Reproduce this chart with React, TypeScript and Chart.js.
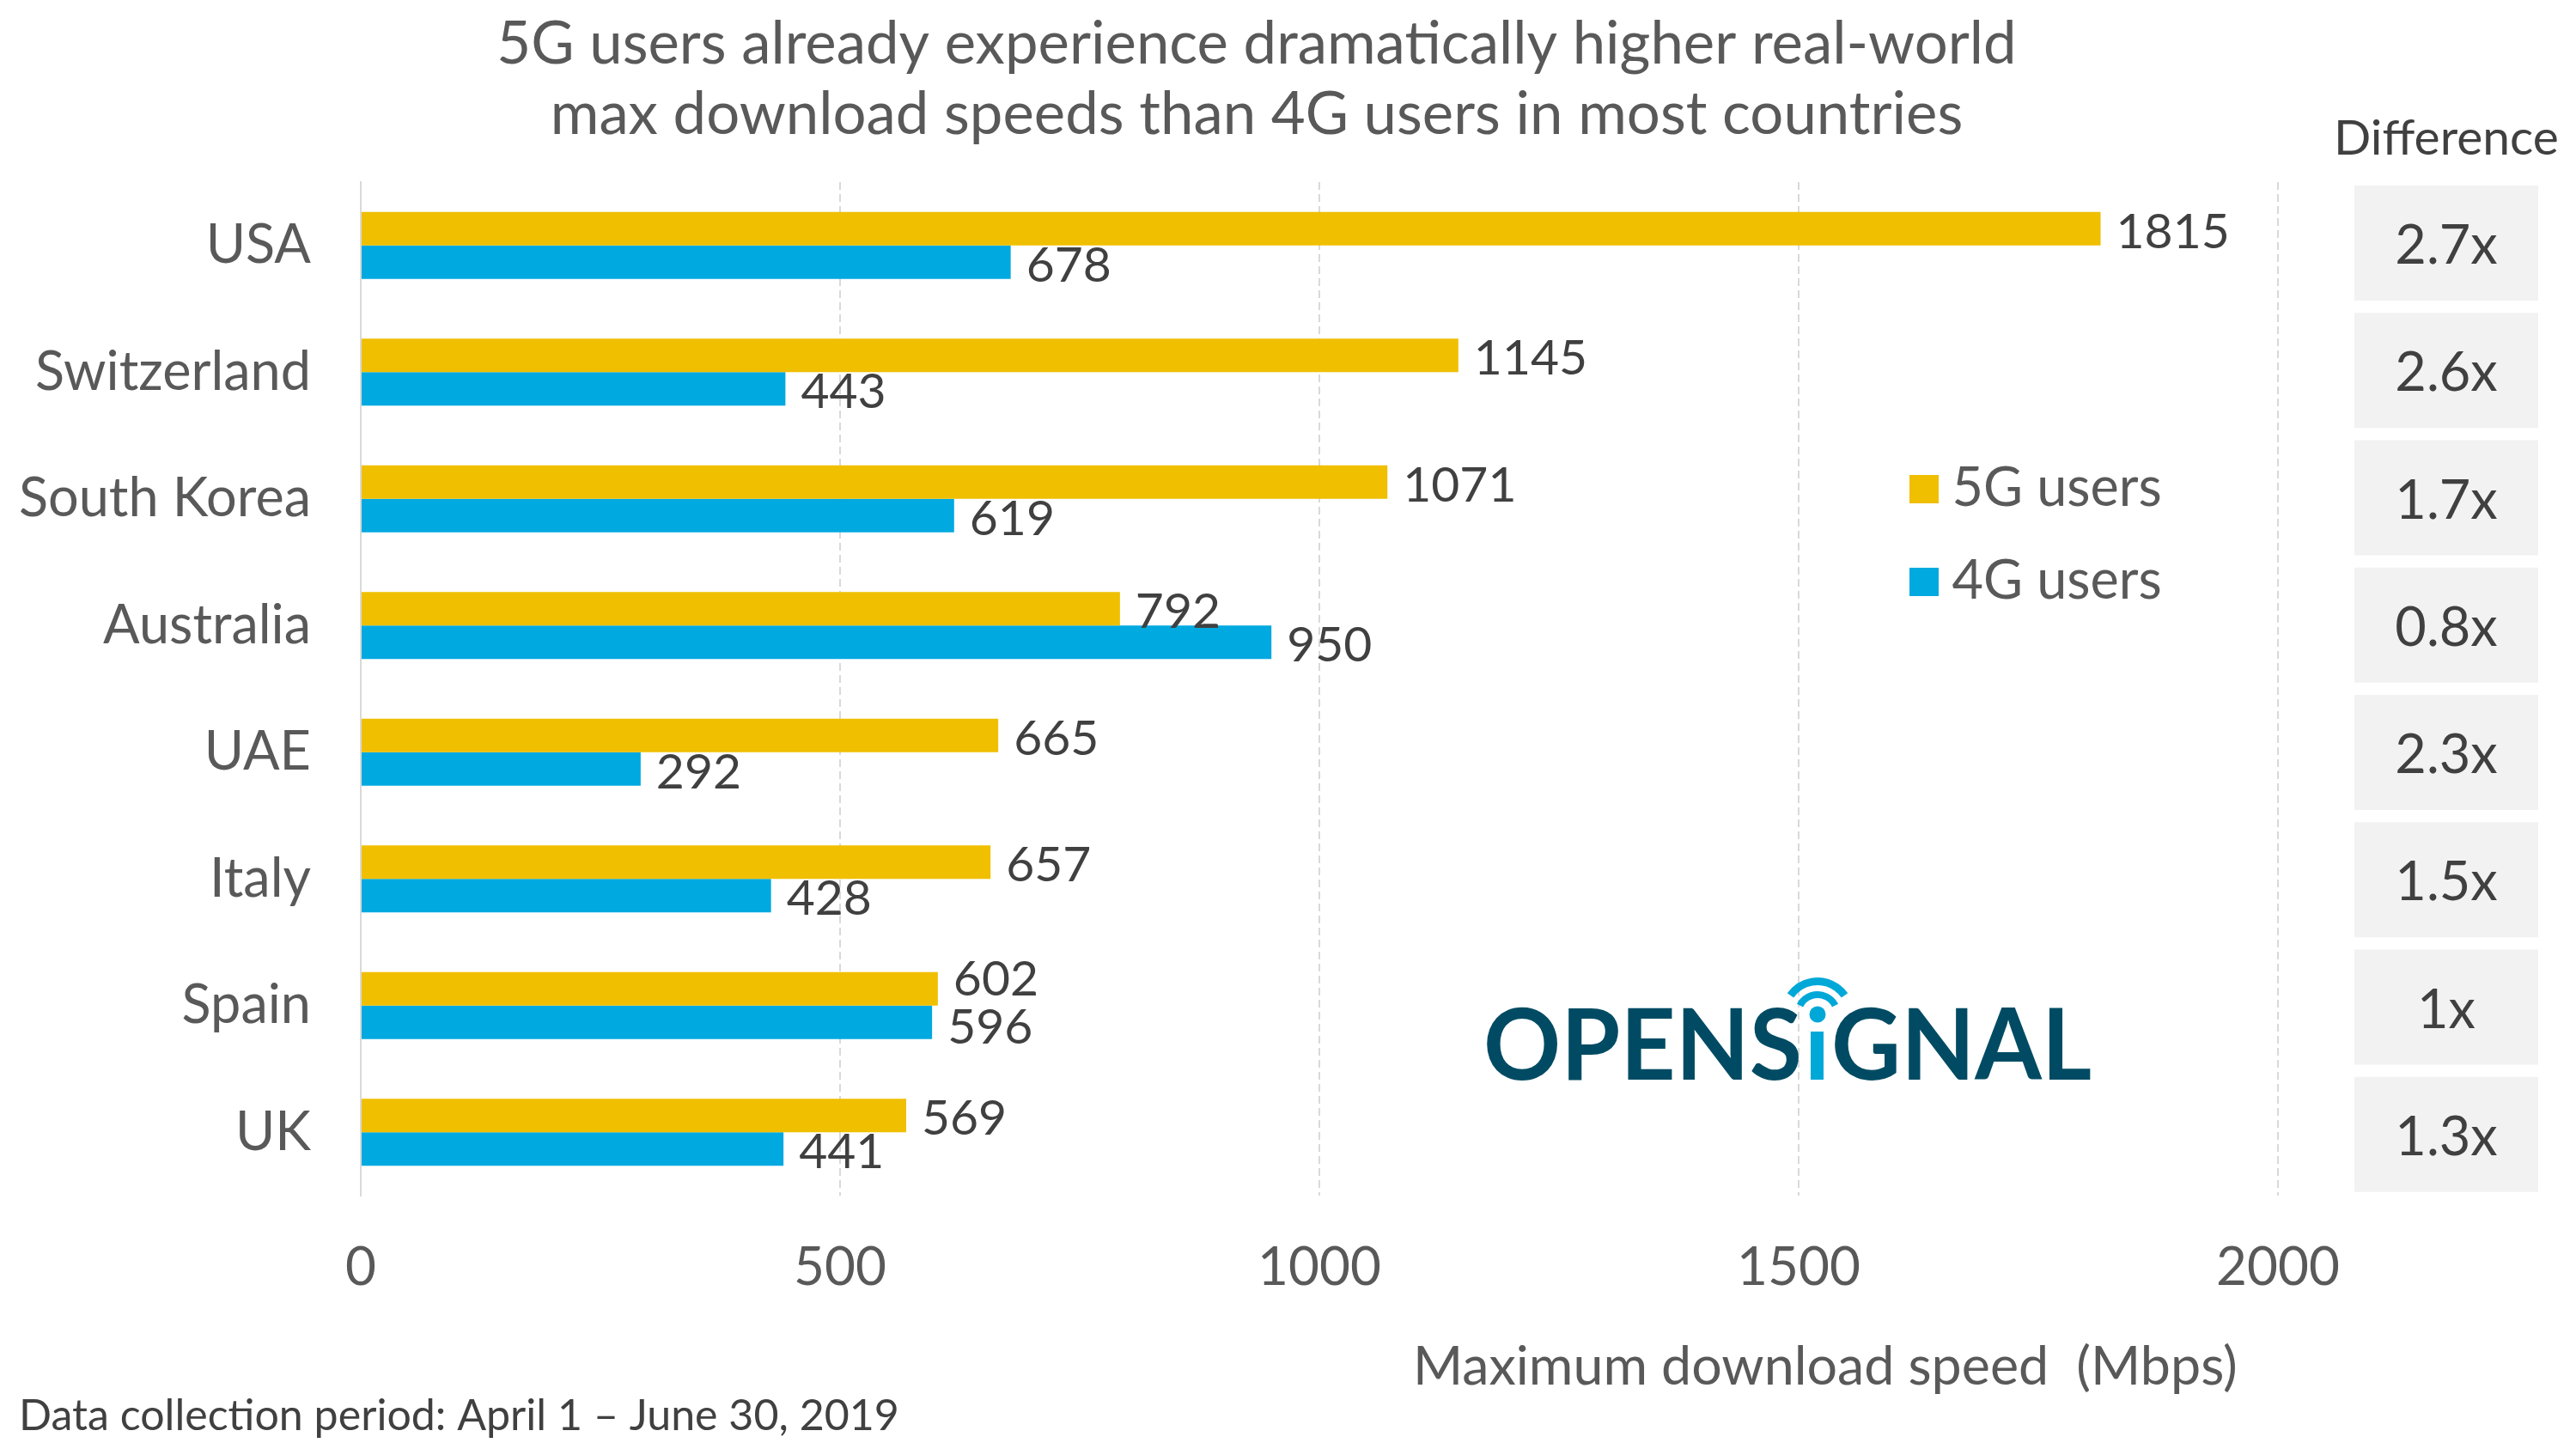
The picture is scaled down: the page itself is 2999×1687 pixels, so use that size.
import React, { useEffect, useRef } from "react";
import { Chart, registerables } from "chart.js";

Chart.register(...registerables);

const titleLines = [
  "5G users already experience dramatically higher real-world",
  "max download speeds than 4G users in most countries",
];
const countries = ["USA", "Switzerland", "South Korea", "Australia", "UAE", "Italy", "Spain", "UK"];
const users5G = [1815, 1145, 1071, 792, 665, 657, 602, 569];
const users4G = [678, 443, 619, 950, 292, 428, 596, 441];
const differences = ["2.7x", "2.6x", "1.7x", "0.8x", "2.3x", "1.5x", "1x", "1.3x"];
const xTicks = [0, 500, 1000, 1500, 2000];
const axisTitle = "Maximum download speed  (Mbps)";
const footnote = "Data collection period: April 1 \u2013 June 30, 2019";

const GOLD = "#F0BF00";
const BLUE = "#00A9E0";
const GREY = "#595959";
const DARK = "#404040";
const LINE = "#D9D9D9";
const FONT = "Lato";

function legendSwatch(color: string) {
  const c = document.createElement("canvas");
  c.width = 34;
  c.height = 33;
  const g = c.getContext("2d")!;
  g.fillStyle = color;
  g.fillRect(0, 0, 34, 33);
  return c;
}

function fitted(ctx: CanvasRenderingContext2D, text: string, x: number, y: number, width: number) {
  const w = ctx.measureText(text).width;
  ctx.save();
  ctx.translate(x, y);
  ctx.scale(width / w, 1);
  ctx.fillText(text, 0, 0);
  ctx.restore();
}

const overlay = {
  id: "overlay",
  afterLayout(chart: any) {
    const lg = chart.legend;
    const w = lg.right - lg.left;
    const h = lg.bottom - lg.top;
    lg.left = 2194;
    lg.top = 492.5;
    lg.right = lg.left + w;
    lg.bottom = lg.top + h;
    // the category labels reach further left than the axis box
    chart.scales.y.left = 0;
  },
  beforeDatasetsDraw(chart: any) {
    const { ctx } = chart;
    ctx.save();
    ctx.fillStyle = "#F2F2F2";
    differences.forEach((_, i) => ctx.fillRect(2741, 216 + 148.25 * i, 214, 134));
    ctx.restore();
  },
  afterDatasetsDraw(chart: any) {
    const { ctx } = chart;
    ctx.save();

    // value labels at the bar ends; two nearly equal bars push their labels apart
    ctx.font = `57px ${FONT}`;
    ctx.fillStyle = DARK;
    ctx.textAlign = "left";
    ctx.textBaseline = "middle";
    chart.data.datasets.forEach((ds: any, d: number) => {
      chart.getDatasetMeta(d).data.forEach((bar: any, i: number) => {
        const close = Math.abs(users5G[i] - users4G[i]) < 20;
        const nudge = close ? (d === 0 ? -15 : 2) : 0;
        ctx.fillText(String(ds.data[i]), bar.x + 18, bar.y + 4 + nudge);
      });
    });
    ctx.textBaseline = "alphabetic";

    // difference column
    ctx.textAlign = "center";
    ctx.font = `57px ${FONT}`;
    ctx.fillText("Difference", 2848, 180);
    ctx.font = `63px ${FONT}`;
    differences.forEach((t, i) => ctx.fillText(t, 2848, 307 + 148.25 * i));

    // axis title and footnote
    ctx.fillStyle = GREY;
    ctx.font = `62.75px ${FONT}`;
    ctx.textAlign = "left";
    ctx.fillText(axisTitle, 1645, 1612);
    ctx.fillStyle = DARK;
    ctx.font = `50.1px ${FONT}`;
    ctx.fillText(footnote, 22, 1665);

    // logo
    ctx.font = `bold 114px ${FONT}`;
    ctx.fillStyle = "#004B63";
    fitted(ctx, "OPENS", 1727, 1257, 371);
    fitted(ctx, "GNAL", 2132, 1257, 303);
    ctx.fillStyle = "#00A8D8";
    ctx.fillRect(2108, 1201, 15, 56);
    ctx.beginPath();
    ctx.arc(2116, 1181, 9.5, 0, Math.PI * 2);
    ctx.fill();
    ctx.strokeStyle = "#00A8D8";
    ctx.lineWidth = 9;
    ctx.beginPath();
    ctx.arc(2116, 1181, 38.5, -Math.PI / 2 - 0.96, -Math.PI / 2 + 0.96);
    ctx.stroke();
    ctx.lineWidth = 8;
    ctx.beginPath();
    ctx.arc(2116, 1181, 23, -Math.PI / 2 - 1.1, -Math.PI / 2 + 1.1);
    ctx.stroke();
    ctx.restore();
  },
};

export default function App() {
  const ref = useRef<HTMLCanvasElement>(null);
  useEffect(() => {
    const chart = new Chart(ref.current!, {
      type: "bar",
      plugins: [overlay],
      data: {
        labels: countries,
        datasets: [
          { label: "5G users", data: users5G, backgroundColor: GOLD, barPercentage: 1, categoryPercentage: 0.53 },
          { label: "4G users", data: users4G, backgroundColor: BLUE, barPercentage: 1, categoryPercentage: 0.53 },
        ],
      },
      options: {
        indexAxis: "y",
        responsive: false,
        maintainAspectRatio: false,
        devicePixelRatio: 1,
        animation: false,
        layout: { padding: { left: 274, right: 347, top: 0, bottom: 0 } },
        scales: {
          x: {
            type: "linear",
            min: 0,
            max: 2000,
            afterBuildTicks: (s: any) => {
              s.ticks = xTicks.map((value) => ({ value }));
            },
            afterFit: (s: any) => {
              s.height = 295;
            },
            border: { display: false, dash: [9, 5] },
            grid: { color: LINE, lineWidth: 2, tickLength: 0, drawTicks: false },
            ticks: {
              color: GREY,
              font: { family: FONT, size: 62 },
              padding: 47,
              maxRotation: 0,
              autoSkip: false,
              callback: (v: any) => String(v),
            },
          },
          y: {
            afterFit: (s: any) => {
              s.width = 146;
            },
            border: { display: true, color: LINE, width: 2, z: 1 },
            grid: { display: false, drawTicks: false, tickLength: 0 },
            ticks: {
              color: GREY,
              font: { family: FONT, size: 63 },
              padding: 58,
              autoSkip: false,
            },
          },
        },
        plugins: {
          title: {
            display: true,
            text: titleLines,
            color: GREY,
            font: { family: FONT, size: 68.9, weight: "normal", lineHeight: 82 / 68.9 },
            padding: { top: 11, bottom: 37 },
          },
          legend: {
            position: "chartArea",
            align: "start",
            labels: {
              usePointStyle: true,
              boxWidth: 2,
              boxHeight: 33,
              padding: 45,
              color: GREY,
              font: { family: FONT, size: 63 },
              generateLabels: () => [
                { text: "5G users", pointStyle: legendSwatch(GOLD), fillStyle: GOLD, fontColor: GREY, lineWidth: 0, datasetIndex: 0 },
                { text: "4G users", pointStyle: legendSwatch(BLUE), fillStyle: BLUE, fontColor: GREY, lineWidth: 0, datasetIndex: 1 },
              ],
            },
          },
          tooltip: { enabled: false },
        },
      } as any,
    });
    return () => chart.destroy();
  }, []);
  return (
    <canvas
      ref={ref}
      width={2999}
      height={1687}
      style={{ position: "absolute", left: 0, top: 0, width: 2999, height: 1687, display: "block" }}
    />
  );
}
